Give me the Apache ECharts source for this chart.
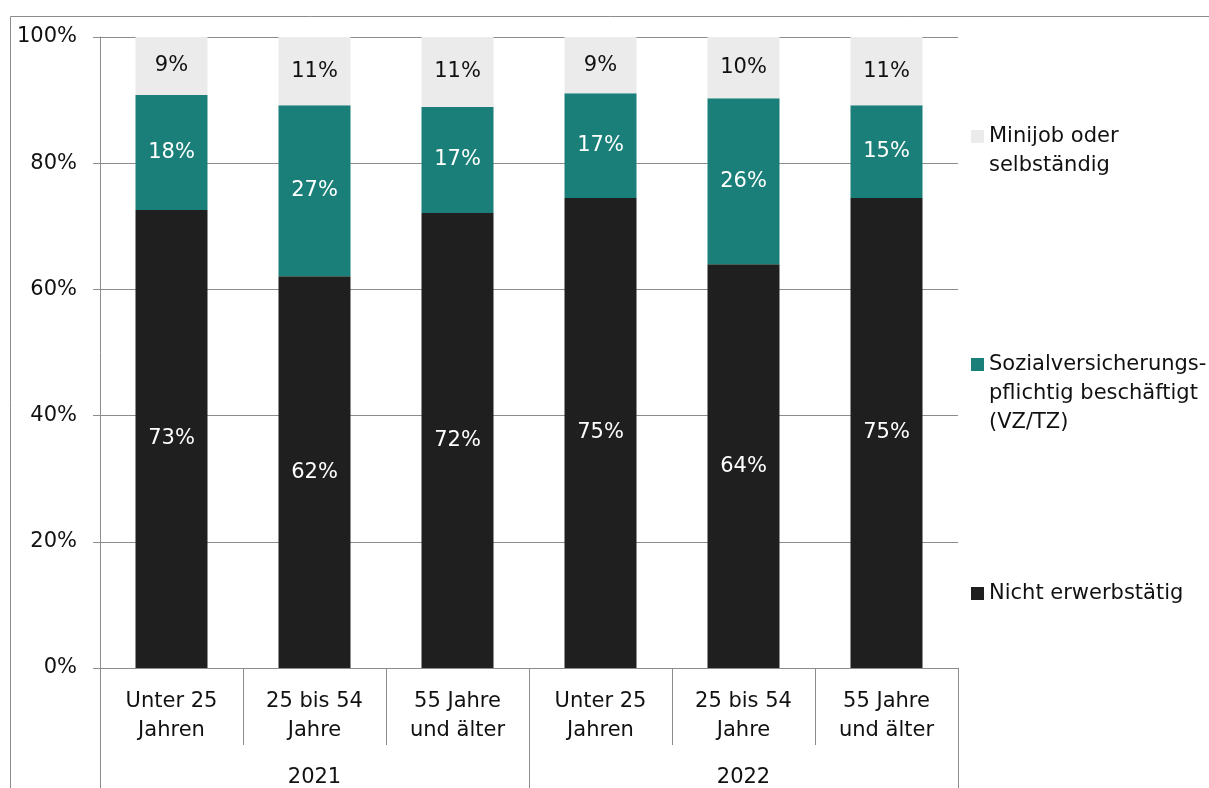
<!DOCTYPE html>
<html><head><meta charset="utf-8">
<script src="https://cdn.jsdelivr.net/npm/echarts@6/dist/echarts.min.js"></script>
<style>html,body{margin:0;padding:0;background:#fff}#c{width:1209px;height:788px}</style>
</head><body><div id="c"></div>
<script>
const categories = ['Unter 25\nJahren','25 bis 54\nJahre','55 Jahre\nund älter','Unter 25\nJahren','25 bis 54\nJahre','55 Jahre\nund älter'];
const years = ['2021','2022'];
const nichtErwerbstaetig = [72.6, 62.1, 72.1, 74.5, 64.0, 74.5];
const sozial = [18.2, 27.1, 16.8, 16.6, 26.3, 14.7];
const minijob = [9.2, 10.8, 11.1, 8.9, 9.7, 10.8];
const yTicks = [0,20,40,60,80,100];
const names = ['Nicht erwerbstätig','Sozialversicherungs-\npflichtig beschäftigt\n(VZ/TZ)','Minijob oder\nselbständig'];
const colors = ['#1f1f1f','#1a7f78','#ebebeb'];

const FONT = 'DejaVu Sans';
const FS = 21;
const chart = echarts.init(document.getElementById('c'));
const lbl = (c) => ({show:true, position:'inside', color:c, fontFamily:FONT, fontSize:FS,
  padding:[4,0,0,0], formatter: p => Math.round(p.value) + '%'});
// leading blank lines so the icon (centred on the text block) sits beside the first line
const leg = (name, top) => {
  const n = name.split('\n').length;
  return {
    orient:'vertical', left:966, top:top, data:[name], itemWidth:13, itemHeight:13, itemGap:0,
    icon:'rect', itemStyle:{borderWidth:0}, selectedMode:false,
    formatter: s => '\n'.repeat(n - 1) + s,
    textStyle:{fontFamily:FONT, fontSize:FS, color:'#111', lineHeight:29}
  };
};
chart.setOption({
  animation:false,
  textStyle:{fontFamily:FONT},
  graphic:[{type:'rect', shape:{x:10.5,y:16.5,width:1400,height:900}, style:{fill:'none', stroke:'#8c8c8c', lineWidth:1}, silent:true}],
  grid:{left:100, right:251, top:37, bottom:120, outerBoundsMode:'none', containLabel:false},
  legend:[leg(names[2], 88), leg(names[1], 287), leg(names[0], 574)],
  xAxis:[{
    type:'category', data:categories, position:'bottom',
    axisLine:{show:true, lineStyle:{color:'#8c8c8c', width:1}},
    axisTick:{show:true, length:77, lineStyle:{color:'#8c8c8c'}},
    axisLabel:{color:'#111', fontFamily:FONT, fontSize:FS, lineHeight:29, margin:19, interval:0}
  },{
    type:'category', data:years, position:'bottom',
    axisLine:{show:false},
    axisTick:{show:true, length:130, lineStyle:{color:'#8c8c8c'}},
    axisLabel:{color:'#111', fontFamily:FONT, fontSize:FS, lineHeight:29, margin:95}
  }],
  yAxis:{
    type:'value', min:0, max:100, interval:20,
    axisLine:{show:true, lineStyle:{color:'#8c8c8c'}},
    axisTick:{show:true, length:7, lineStyle:{color:'#8c8c8c'}},
    splitLine:{show:true, lineStyle:{color:'#8c8c8c', width:1}},
    axisLabel:{color:'#111', fontFamily:FONT, fontSize:FS, margin:23, padding:[8,0,0,0],
      formatter: v => yTicks.includes(v) ? v + '%' : ''}
  },
  series:[
    {name:names[0], type:'bar', stack:'s', data:nichtErwerbstaetig, barWidth:72, itemStyle:{color:colors[0]}, label:lbl('#fff')},
    {name:names[1], type:'bar', stack:'s', data:sozial, barWidth:72, itemStyle:{color:colors[1]}, label:lbl('#fff')},
    {name:names[2], type:'bar', stack:'s', data:minijob, barWidth:72, itemStyle:{color:colors[2]}, label:lbl('#111')}
  ]
});
</script></body></html>
